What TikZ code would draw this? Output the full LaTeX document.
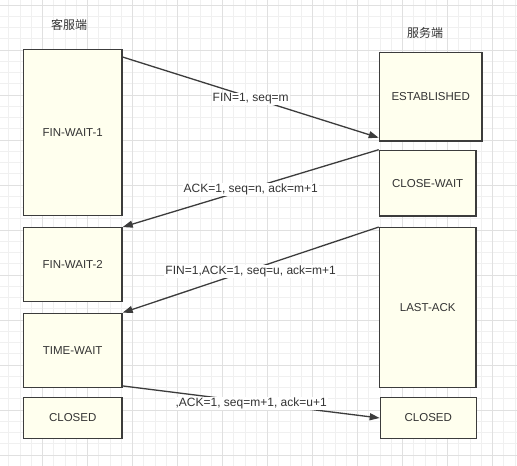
\documentclass[tikz,border=0pt]{standalone}
\usepackage{fontspec}
\setmainfont{Liberation Sans}
\newfontfamily\cjk{Noto Sans CJK SC}
\usetikzlibrary{arrows.meta,calc}
\definecolor{boxfill}{RGB}{255,255,238}
\definecolor{boxline}{RGB}{60,60,60}
\definecolor{txt}{RGB}{51,51,51}
\definecolor{gridminor}{RGB}{240,240,240}
\definecolor{gridmajor}{RGB}{224,224,224}
\begin{document}
\begin{tikzpicture}[x=1pt,y=-1pt,
  statebox/.style={draw=boxline, fill=boxfill, line width=1.3pt, inner sep=0pt,
    text=txt, font=\fontsize{11.5}{13}\selectfont},
  msg/.style={draw=boxline, line width=1.3pt, -{Triangle[length=10pt,width=7pt]}},
  msglabel/.style={midway, fill=white, inner sep=1pt, yshift=-1.5pt, text=txt, font=\fontsize{12}{14}\selectfont},
  sidelabel/.style={text=txt, font=\cjk\fontsize{12}{14}\selectfont},
  minorline/.style={draw=gridminor, line width=1pt},
  majorline/.style={draw=gridmajor, line width=1pt}]
\useasboundingbox (0,0) rectangle (517,466);
\fill[white] (0,0) rectangle (517,466);
\begin{scope}
\clip (0,0) rectangle (517,466);
\foreach \k in {-3,...,42} {
  \pgfmathsetmacro\xx{42.7+11.25*\k}
  \draw[minorline] (\xx,0) -- (\xx,466);
}
\foreach \k in {0,...,41} {
  \pgfmathsetmacro\yy{5+11.25*\k}
  \draw[minorline] (0,\yy) -- (517,\yy);
}
\foreach \k in {0,...,10} {
  \pgfmathsetmacro\xx{42.7+45*\k}
  \draw[majorline] (\xx,0) -- (\xx,466);
  \pgfmathsetmacro\yy{5+45*\k}
  \draw[majorline] (0,\yy) -- (517,\yy);
}
\end{scope}

\node[sidelabel] (client) at (69,25) {客服端};
\node[sidelabel] (server) at (425,33) {服务端};

\node[statebox, minimum width=98.7pt, minimum height=166pt] (fw1) at (72.7,132.3) {FIN-WAIT-1};
\node[statebox, minimum width=98.7pt, minimum height=73.6pt] (fw2) at (72.7,264.5) {FIN-WAIT-2};
\node[statebox, minimum width=98.7pt, minimum height=74pt] (tw) at (72.7,350.3) {TIME-WAIT};
\node[statebox, minimum width=98.7pt, minimum height=41.4pt] (cl1) at (72.7,418) {CLOSED};

\node[statebox, minimum width=102.7pt, minimum height=88.7pt] (est) at (430.7,96.7) {ESTABLISHED};
\node[statebox, minimum width=96.7pt, minimum height=65.7pt] (cw) at (427.7,183.2) {CLOSE-WAIT};
\node[statebox, minimum width=96.7pt, minimum height=159.6pt] (la) at (427.7,307.5) {LAST-ACK};
\node[statebox, minimum width=96pt, minimum height=41.4pt] (cl2) at (428.3,418) {CLOSED};

\draw[msg] ($(fw1.north east)+(0,8.4)$) -- ($(est.south west)+(0,-4)$)
  node[msglabel] {FIN=1, seq=m};
\draw[msg] (cw.north west) -- (fw2.north east)
  node[msglabel] {ACK=1, seq=n, ack=m+1};
\draw[msg] (la.north west) -- (tw.north east)
  node[msglabel] {FIN=1,ACK=1, seq=u, ack=m+1};
\draw[msg] ($(tw.south east)+(0,-2)$) -- (cl2.west)
  node[msglabel] {,ACK=1, seq=m+1, ack=u+1};
\end{tikzpicture}
\end{document}
